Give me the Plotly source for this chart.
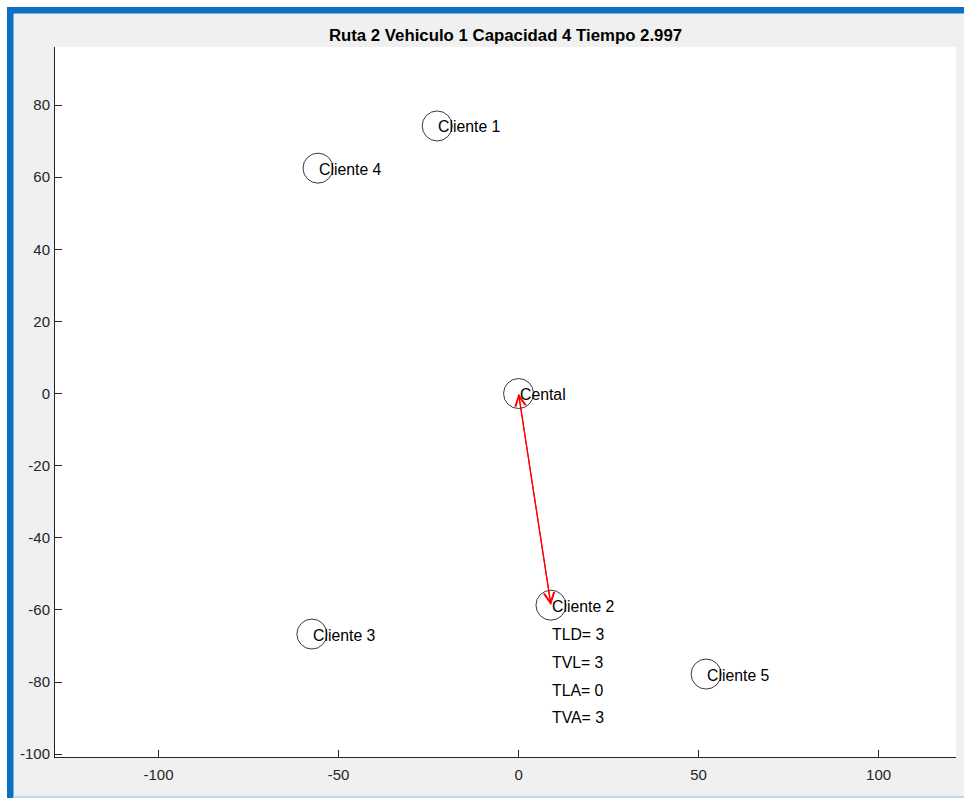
import plotly.graph_objects as go

# Nodes of the route map
node_names = ["Cental", "Cliente 1", "Cliente 2", "Cliente 3", "Cliente 4", "Cliente 5"]
node_x = [0.0, -22.6, 9.0, -57.4, -55.7, 52.1]
node_y = [0.0, 74.2, -58.7, -66.7, 62.5, -77.8]

# Route legs (index of origin node -> index of destination node)
leg_from = [0, 2]
leg_to = [2, 0]

# Info block written under the visited client
info_labels = ["TLD", "TVL", "TLA", "TVA"]
info_values = [3, 3, 0, 3]
info_node = 2
info_step = 7.75

title_text = "Ruta 2 Vehiculo 1 Capacidad 4 Tiempo 2.997"

x_ticks = [-100, -50, 0, 50, 100]
y_ticks = [-100, -80, -60, -40, -20, 0, 20, 40, 60, 80]
x_range = [-128.75, 121.5]
y_range = [-100.8, 96.1]

W, H = 964, 798
ML, MR, MT, MB = 55, 8, 47, 41
PW, PH = W - ML - MR, H - MT - MB
FONT = "Liberation Sans, Arial, Helvetica, sans-serif"
AX_COL = "#262626"


def xp(px):
    return (px - ML) / PW


def yp(py):
    return (H - MB - py) / PH


fig = go.Figure()

fig.add_trace(go.Scatter(
    x=node_x, y=node_y, mode="markers",
    marker=dict(symbol="circle-open", size=30, color="#3a3a3a", line=dict(width=1, color="#3a3a3a")),
    hoverinfo="skip", showlegend=False,
))

annotations = []
for name, x, y in zip(node_names, node_x, node_y):
    annotations.append(dict(
        x=x, y=y, xref="x", yref="y", text=name, showarrow=False,
        xanchor="left", yanchor="middle", xshift=-1, yshift=-1,
        font=dict(family=FONT, size=15.8, color="#000000"),
    ))

for i, (lab, val) in enumerate(zip(info_labels, info_values)):
    annotations.append(dict(
        x=node_x[info_node], y=node_y[info_node] - info_step * (i + 1),
        xref="x", yref="y", text=f"{lab}= {val}", showarrow=False,
        xanchor="left", yanchor="middle", xshift=-1, yshift=-1,
        font=dict(family=FONT, size=15.8, color="#000000"),
    ))

for a, b in zip(leg_from, leg_to):
    annotations.append(dict(
        x=node_x[b], y=node_y[b], ax=node_x[a], ay=node_y[a],
        xref="x", yref="y", axref="x", ayref="y",
        text="", showarrow=True, arrowhead=5, arrowsize=1.7,
        arrowwidth=1.2, arrowcolor="#ff0000", standoff=0, startstandoff=0,
    ))

# Window frame around the figure
shapes = [
    dict(type="rect", xref="paper", yref="paper", x0=xp(0), x1=xp(W), y0=yp(0), y1=yp(7),
         fillcolor="#ffffff", line=dict(width=0), layer="below"),
    dict(type="rect", xref="paper", yref="paper", x0=xp(0), x1=xp(7), y0=yp(0), y1=yp(H),
         fillcolor="#ffffff", line=dict(width=0), layer="below"),
    dict(type="rect", xref="paper", yref="paper", x0=xp(7), x1=xp(W), y0=yp(7), y1=yp(13.5),
         fillcolor="#0a71c4", line=dict(width=0), layer="below"),
    dict(type="rect", xref="paper", yref="paper", x0=xp(7), x1=xp(13.5), y0=yp(7), y1=yp(H),
         fillcolor="#0a71c4", line=dict(width=0), layer="below"),
    dict(type="rect", xref="paper", yref="paper", x0=xp(13.5), x1=xp(W), y0=yp(796), y1=yp(H),
         fillcolor="#c3d8ea", line=dict(width=0), layer="below"),
]

fig.update_layout(
    width=W, height=H, autosize=False,
    margin=dict(l=ML, r=MR, t=MT, b=MB, pad=0),
    paper_bgcolor="#f0f0f0", plot_bgcolor="#ffffff",
    title=dict(text=f"<b>{title_text}</b>", x=0.5, xref="paper", xanchor="center",
               y=1 - 35 / H, yref="container", yanchor="middle",
               font=dict(family=FONT, size=16.8, color="#000000")),
    showlegend=False,
    annotations=annotations,
    shapes=shapes,
    xaxis=dict(range=x_range, tickmode="array", tickvals=x_ticks, ticktext=[str(v) for v in x_ticks],
               ticks="inside", ticklen=7, tickwidth=1, tickcolor=AX_COL,
               showline=True, linecolor=AX_COL, linewidth=1, mirror=False,
               showgrid=False, zeroline=False, ticklabelstandoff=4,
               tickfont=dict(family=FONT, size=15, color=AX_COL)),
    yaxis=dict(range=y_range, tickmode="array", tickvals=y_ticks, ticktext=[str(v) for v in y_ticks],
               ticks="inside", ticklen=7, tickwidth=1, tickcolor=AX_COL,
               showline=True, linecolor=AX_COL, linewidth=1, mirror=False,
               showgrid=False, zeroline=False, ticklabelstandoff=1,
               tickfont=dict(family=FONT, size=15, color=AX_COL)),
)

fig.write_html("out.html")
